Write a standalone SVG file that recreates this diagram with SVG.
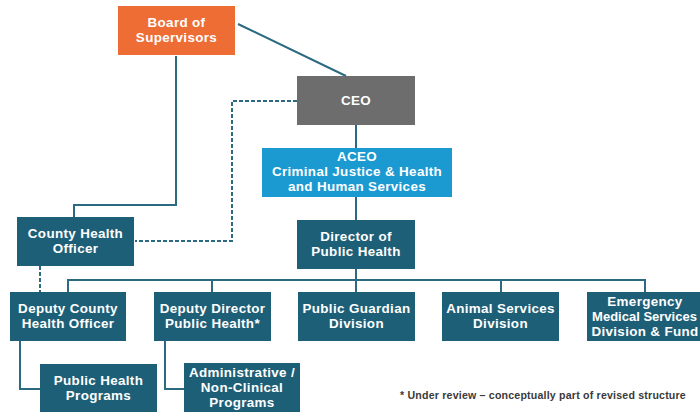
<svg xmlns="http://www.w3.org/2000/svg" width="700" height="412" viewBox="0 0 700 412">
<style>
.n{fill:#1E5F78}
.t{font-family:"Liberation Sans",Arial,sans-serif;font-weight:bold;font-size:13.4px;letter-spacing:0.35px;fill:#fff;text-anchor:middle}
.c{fill:none;stroke:#2B6A80;stroke-width:2}
.d{fill:none;stroke:#2B6A80;stroke-width:2;stroke-dasharray:4 2}
.f{font-family:"Liberation Sans",Arial,sans-serif;font-weight:bold;font-size:10.6px;letter-spacing:0.2px;fill:#3a3a3a;text-anchor:middle}
</style>
<rect width="700" height="412" fill="#fff"/>
<g id="connectors">
<path class="c" d="M238 24 L346 76"/>
<path class="c" d="M176 56 V205 H74 V217"/>
<path class="d" d="M297 101 H232 V241 H135"/>
<path class="c" d="M356 125 V148"/>
<path class="c" d="M356 197 V220"/>
<path class="c" d="M356 269 V292"/>
<path class="c" d="M68 292 V280 H645 V292"/>
<path class="c" d="M212 280 V292"/>
<path class="c" d="M501 280 V292"/>
<path class="d" d="M40 266 V292"/>
<path class="c" d="M20 341 V389 H40"/>
<path class="c" d="M165 341 V389 H184"/>
</g>
<g id="board"><rect x="118" y="6" width="117" height="49" fill="#ED6D35"/>
<text class="t" x="176.5" y="27" fill="#FBEDE6">Board of</text><text class="t" x="176.5" y="42" fill="#FBEDE6">Supervisors</text></g>
<g id="ceo"><rect x="297" y="76" width="118" height="49" fill="#6D6D6D"/>
<text class="t" x="356" y="105">CEO</text></g>
<g id="aceo"><rect x="262" y="148" width="190" height="49" fill="#1B9AD2"/>
<text class="t" x="357" y="161">ACEO</text><text class="t" x="357" y="176">Criminal Justice &amp; Health</text><text class="t" x="357" y="191">and Human Services</text></g>
<g id="director"><rect class="n" x="297" y="220" width="118" height="49"/>
<text class="t" x="356" y="241">Director of</text><text class="t" x="356" y="256">Public Health</text></g>
<g id="cho"><rect class="n" x="17" y="217" width="117" height="49"/>
<text class="t" x="75.5" y="238">County Health</text><text class="t" x="75.5" y="253">Officer</text></g>
<g id="dcho"><rect class="n" x="10" y="292" width="116" height="49"/>
<text class="t" x="68" y="313">Deputy County</text><text class="t" x="68" y="328">Health Officer</text></g>
<g id="ddph"><rect class="n" x="154" y="292" width="117" height="49"/>
<text class="t" x="212.5" y="313">Deputy Director</text><text class="t" x="212.5" y="328">Public Health*</text></g>
<g id="pgd"><rect class="n" x="298" y="292" width="117" height="49"/>
<text class="t" x="356.5" y="313">Public Guardian</text><text class="t" x="356.5" y="328">Division</text></g>
<g id="asd"><rect class="n" x="442" y="292" width="117" height="49"/>
<text class="t" x="500.5" y="313">Animal Services</text><text class="t" x="500.5" y="328">Division</text></g>
<g id="ems"><rect class="n" x="587" y="292" width="117" height="49"/>
<text class="t" x="645" y="306">Emergency</text><text class="t" x="644.5" y="321" style="font-size:13px;letter-spacing:0">Medical Services</text><text class="t" x="645" y="336">Division &amp; Fund</text></g>
<g id="php"><rect class="n" x="40" y="364" width="117" height="52"/>
<text class="t" x="98.5" y="385">Public Health</text><text class="t" x="98.5" y="400">Programs</text></g>
<g id="admin"><rect class="n" x="184" y="363" width="116" height="53"/>
<text class="t" x="242" y="377">Administrative /</text><text class="t" x="242" y="392">Non-Clinical</text><text class="t" x="242" y="407">Programs</text></g>
<text class="f" x="543" y="399">* Under review – conceptually part of revised structure</text>
</svg>
